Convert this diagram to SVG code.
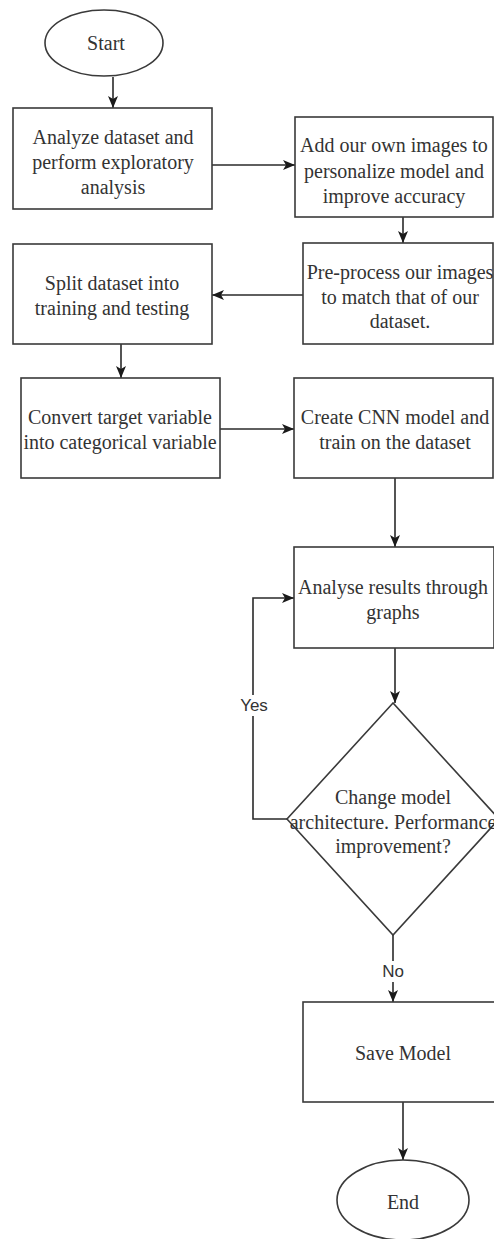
<svg xmlns="http://www.w3.org/2000/svg" width="494" height="1239" viewBox="0 0 494 1239">
<style>
.shape{fill:#fff;stroke:#3a3a3a;stroke-width:1.6}
.t{font-family:"Liberation Serif","Times New Roman",serif;font-size:20px;fill:#333;text-anchor:middle;dominant-baseline:central}
.lbl{font-family:"Liberation Sans",Arial,sans-serif;font-size:17px;fill:#333;text-anchor:middle;dominant-baseline:central}
.c{fill:none;stroke:#2a2a2a;stroke-width:1.6}
</style>
<defs>
<marker id="arr" viewBox="0 0 12 10" refX="12" refY="5" markerWidth="12" markerHeight="10" markerUnits="userSpaceOnUse" orient="auto">
<path d="M0 0 L12 5 L0 10 L3 5 Z" fill="#1a1a1a"/>
</marker>
</defs>
<rect width="494" height="1239" fill="#fff"/>
<g id="connectors">
<path class="c" d="M113 77 V108" marker-end="url(#arr)"/>
<path class="c" d="M212 165 H295" marker-end="url(#arr)"/>
<path class="c" d="M403 217 V243" marker-end="url(#arr)"/>
<path class="c" d="M303 295 H212" marker-end="url(#arr)"/>
<path class="c" d="M121 344 V378" marker-end="url(#arr)"/>
<path class="c" d="M220 429 H294" marker-end="url(#arr)"/>
<path class="c" d="M395 478 V547" marker-end="url(#arr)"/>
<path class="c" d="M395 648 V703" marker-end="url(#arr)"/>
<path class="c" d="M287 819 H253 V598 H294" marker-end="url(#arr)"/>
<path class="c" d="M393 935 V1002" marker-end="url(#arr)"/>
<path class="c" d="M403 1102 V1160" marker-end="url(#arr)"/>
<rect x="238" y="695" width="32" height="21" fill="#fff"/>
<text class="lbl" x="254" y="705">Yes</text>
<rect x="380" y="961" width="26" height="21" fill="#fff"/>
<text class="lbl" x="393" y="971">No</text>
</g>
<g id="start">
<ellipse class="shape" cx="104" cy="43" rx="59" ry="33"/>
<text class="t" x="106" y="43">Start</text>
</g>
<g id="analyze">
<rect class="shape" x="13" y="108" width="199" height="101"/>
<text class="t" x="113" y="137">Analyze dataset and</text>
<text class="t" x="113" y="162">perform exploratory</text>
<text class="t" x="113" y="187">analysis</text>
</g>
<g id="addimages">
<rect class="shape" x="295" y="117" width="198" height="100"/>
<text class="t" x="394" y="145">Add our own images to</text>
<text class="t" x="394" y="171">personalize model and</text>
<text class="t" x="394" y="196">improve accuracy</text>
</g>
<g id="preprocess">
<rect class="shape" x="303" y="243" width="190" height="101"/>
<text class="t" x="400" y="272">Pre-process our images</text>
<text class="t" x="400" y="297">to match that of our</text>
<text class="t" x="400" y="321">dataset.</text>
</g>
<g id="split">
<rect class="shape" x="13" y="244" width="199" height="100"/>
<text class="t" x="112" y="283">Split dataset into</text>
<text class="t" x="112" y="308">training and testing</text>
</g>
<g id="convert">
<rect class="shape" x="21" y="378" width="199" height="100"/>
<text class="t" x="120" y="417">Convert target variable</text>
<text class="t" x="120" y="442">into categorical variable</text>
</g>
<g id="create">
<rect class="shape" x="294" y="378" width="199" height="100"/>
<text class="t" x="395" y="417">Create CNN model and</text>
<text class="t" x="395" y="442">train on the dataset</text>
</g>
<g id="analyse">
<rect class="shape" x="294" y="547" width="200" height="101"/>
<text class="t" x="393" y="587">Analyse results through</text>
<text class="t" x="393" y="612">graphs</text>
</g>
<g id="decision">
<polygon class="shape" points="393,703 287,819 393,935 499,819"/>
<text class="t" x="393" y="797">Change model</text>
<text class="t" x="393" y="822">architecture. Performance</text>
<text class="t" x="393" y="846">improvement?</text>
</g>
<g id="save">
<rect class="shape" x="303" y="1002" width="193" height="100"/>
<text class="t" x="403" y="1053">Save Model</text>
</g>
<g id="end">
<ellipse class="shape" cx="403" cy="1200" rx="66" ry="40"/>
<text class="t" x="403" y="1202">End</text>
</g>
</svg>
